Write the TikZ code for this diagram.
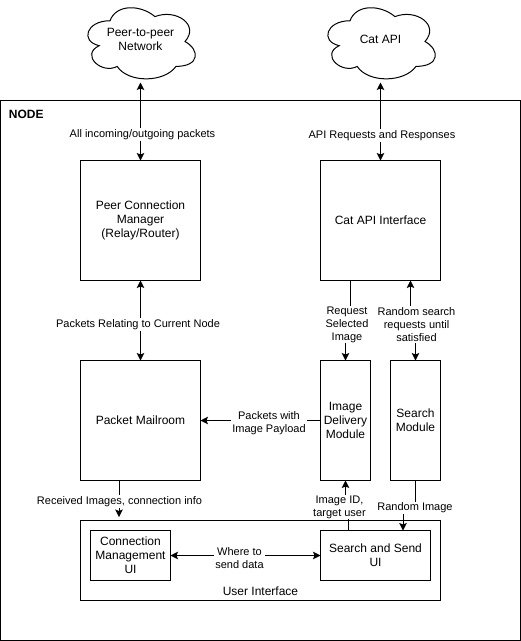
\documentclass[tikz,border=0pt]{standalone}
\usepackage{fontspec}
\setmainfont{Liberation Sans}
\usetikzlibrary{arrows.meta}
\tikzset{
  x=1pt,y=-1pt,
  boxnode/.style={draw=black,line width=1pt,fill=white,rectangle,outer sep=0pt,inner sep=1pt,align=center,font=\fontsize{12}{14}\selectfont},
  lbl/.style={fill=white,inner sep=1pt,outer sep=0pt,align=center,font=\fontsize{11}{13}\selectfont},
  plain/.style={inner sep=0pt,outer sep=0pt,align=center,font=\fontsize{12}{14}\selectfont},
  conn/.style={line width=1pt,draw=black},
  ah/.style={conn,-{Stealth[length=7.5pt,width=7.5pt,inset=1.5pt]}},
  ahh/.style={conn,{Stealth[length=7.5pt,width=7.5pt,inset=1.5pt]}-{Stealth[length=7.5pt,width=7.5pt,inset=1.5pt]}},
  cloudshape/.style={line width=1pt,draw=black,fill=white},
}
\newcommand{\cloudat}[2]{%
  \draw[cloudshape,shift={(#1,#2)}] (30,20.75)
    .. controls (6,20.75) and (0,41.5) .. (19.2,45.65)
    .. controls (0,54.8) and (21.6,74.7) .. (37.2,66.4)
    .. controls (48,83) and (84,83) .. (96,66.4)
    .. controls (120,66.4) and (120,49.8) .. (105,41.5)
    .. controls (120,24.9) and (96,8.3) .. (75,16.6)
    .. controls (60,4.15) and (36,4.15) .. (30,20.75) -- cycle;}
\begin{document}
\begin{tikzpicture}
\useasboundingbox (0,0) rectangle (521,641);
\fill[white] (0,0) rectangle (521,641);
% outer
\node[boxnode,minimum width=520pt,minimum height=540pt] (nodebox) at (260.5,370.5) {};
\node[plain,font=\fontsize{12}{14}\selectfont\bfseries,anchor=west] (nodetitle) at (9,114) {NODE};
% clouds
\cloudat{80}{0}
\cloudat{320}{0}
\node[plain,minimum width=120pt,minimum height=83pt] (cloudP) at (140.5,39.5) {Peer-to-peer\\Network};
\node[plain,minimum width=120pt,minimum height=83pt] (cloudC) at (380.5,39.5) {Cat API};
% boxes
\node[boxnode,minimum width=120pt,minimum height=120pt] (peer) at (140.5,220.5) {Peer Connection\\Manager\\(Relay/Router)};
\node[boxnode,minimum width=120pt,minimum height=120pt] (cat) at (380.5,220.5) {Cat API Interface};
\node[boxnode,minimum width=120pt,minimum height=120pt] (mail) at (140.5,420.5) {Packet Mailroom};
\node[boxnode,minimum width=50pt,minimum height=120pt] (img) at (345.5,420.5) {Image\\Delivery\\Module};
\node[boxnode,minimum width=50pt,minimum height=120pt] (search) at (415.5,420.5) {Search\\Module};
\node[boxnode,minimum width=360pt,minimum height=80pt] (ui) at (260.5,560.5) {};
\node[boxnode,minimum width=80pt,minimum height=50pt] (connui) at (130.5,555.5) {Connection\\Management\\UI};
\node[boxnode,minimum width=110pt,minimum height=50pt] (sendui) at (375.5,555.5) {Search and Send\\UI};
\node[plain] (uititle) at (260.5,591) {User Interface};
% connectors
\draw[ahh] ([yshift=-1.5pt]cloudP.south) -- (peer.north);
\draw[ahh] ([yshift=-1.5pt]cloudC.south) -- (cat.north);
\draw[ahh] (peer.south) -- (mail.north);
\draw[ah] ([xshift=-30pt]cat.south) -- ++(0,40) -| (img.north);
\draw[ahh] (search.north) -- ++(0,-40) -| ([xshift=30pt]cat.south);
\draw[ah] (img.west) -- (mail.east);
\draw[ahh] (connui.east) -- (sendui.west);
\coordinate (rxend) at (119,517);
\draw[ah] ([xshift=-21.5pt]mail.south) -- (rxend);
\draw[ah] ([xshift=-27.5pt]sendui.north) -- ++(0,-20) -| (img.south);
\draw[ah] (search.south) -- ++(0,27) -| ([xshift=27.5pt]sendui.north);
% labels
\node[lbl] (l1) at (142.5,134.5) {All incoming/outgoing packets};
\node[lbl] (l2) at (382,135.5) {API Requests and Responses};
\node[lbl] (l3) at (138,324.5) {Packets Relating to Current Node};
\node[lbl] (l4) at (347,324.5) {Request\\Selected\\Image};
\node[lbl] (l5) at (416.5,324.5) {Random search\\requests until\\satisfied};
\node[lbl] (l6) at (269,423) {Packets with\\Image Payload};
\node[lbl] (l7) at (119.5,501.5) {Received Images, connection info};
\node[lbl] (l8) at (339.5,507) {Image ID,\\target user};
\node[lbl] (l9) at (415,508) {Random Image};
\node[lbl] (l10) at (239.5,558) {Where to\\send data};
\end{tikzpicture}
\end{document}
